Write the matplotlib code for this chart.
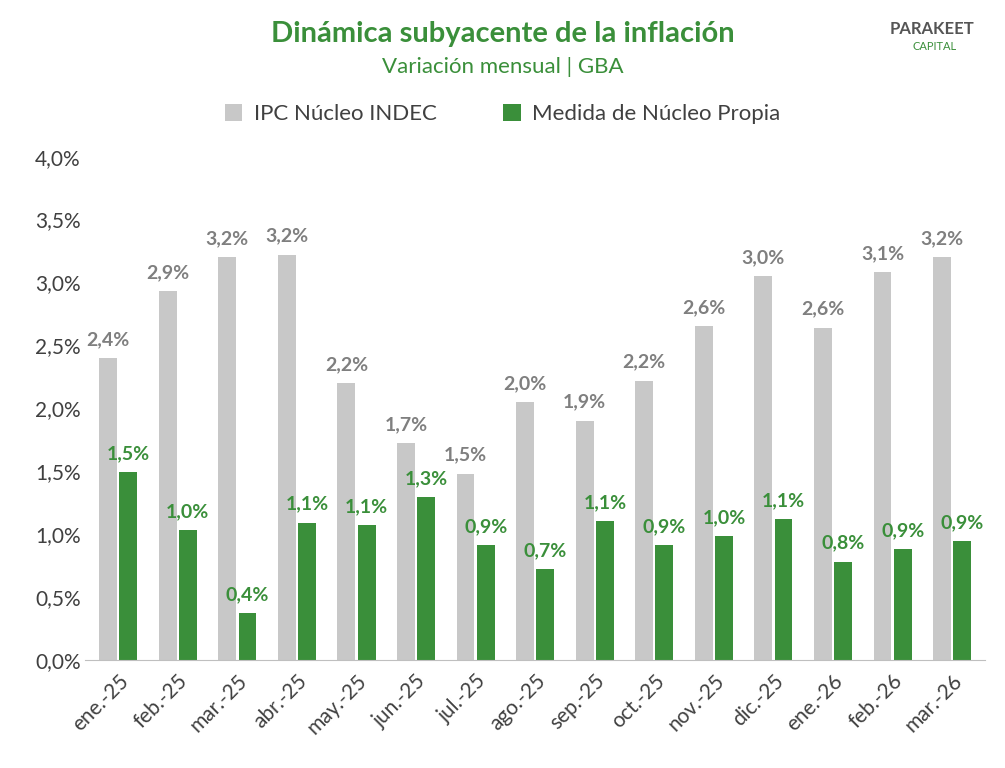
import matplotlib.pyplot as plt
import numpy as np

plt.rcParams['font.family'] = ['Lato', 'DejaVu Sans']

months = ['ene.-25', 'feb.-25', 'mar.-25', 'abr.-25', 'may.-25', 'jun.-25', 'jul.-25',
          'ago.-25', 'sep.-25', 'oct.-25', 'nov.-25', 'dic.-25', 'ene.-26', 'feb.-26', 'mar.-26']
ipc_indec = [2.40, 2.93, 3.20, 3.22, 2.20, 1.72, 1.48, 2.05, 1.90, 2.22, 2.65, 3.05, 2.64, 3.08, 3.20]
nucleo_propia = [1.49, 1.03, 0.37, 1.09, 1.07, 1.29, 0.91, 0.72, 1.10, 0.91, 0.98, 1.12, 0.78, 0.88, 0.94]

gray = '#c8c8c8'
green = '#3a8f3a'
label_gray = '#7f7f7f'

fig = plt.figure(figsize=(10.05, 7.68), dpi=100)
ax = fig.add_axes([0.085, 0.141, 0.895, 0.655])

x = np.arange(len(months))
w = 0.3
b1 = ax.bar(x - 0.17, ipc_indec, w, color=gray, label='IPC Núcleo INDEC')
b2 = ax.bar(x + 0.17, nucleo_propia, w, color=green, label='Medida de Núcleo Propia')

def fmt(v):
    return f'{v:.1f}%'.replace('.', ',')

for xi, v in zip(x, ipc_indec):
    ax.text(xi - 0.17, v + 0.08, fmt(v), ha='center', va='bottom', fontsize=14,
            fontweight='bold', color=label_gray)
for xi, v in zip(x, nucleo_propia):
    ax.text(xi + 0.17, v + 0.08, fmt(v), ha='center', va='bottom', fontsize=14,
            fontweight='bold', color=green)

ax.set_ylim(0, 4.0)
ax.set_xlim(-0.55, len(months) - 0.45)
ax.set_yticks(np.arange(0, 4.01, 0.5))
ax.set_yticklabels([fmt(v) for v in np.arange(0, 4.01, 0.5)], fontsize=15, color='#404040')
ax.set_xticks(x)
ax.set_xticklabels(months, rotation=45, ha='right', rotation_mode='anchor', fontsize=15, color='#404040')
for s in ['top', 'right', 'left']:
    ax.spines[s].set_visible(False)
ax.spines['bottom'].set_color('#bfbfbf')
ax.tick_params(axis='y', length=0)
ax.tick_params(axis='x', length=0, pad=8)

fig.text(0.5, 0.956, 'Dinámica subyacente de la inflación', ha='center', va='center',
         fontsize=21, fontweight='bold', color=green)
fig.text(0.5, 0.913, 'Variación mensual | GBA', ha='center', va='center', fontsize=16, color=green)
fig.legend(handles=[b1, b2], loc='center', bbox_to_anchor=(0.5, 0.852), ncol=2, frameon=False,
           fontsize=16, handlelength=0.8, handleheight=0.8, handletextpad=0.5,
           columnspacing=3.0, labelcolor='#404040')

fig.text(0.885, 0.962, 'PARAKEET', ha='left', va='center', fontsize=12, fontweight='bold', color='#555555')
fig.text(0.908, 0.940, 'CAPITAL', ha='left', va='center', fontsize=8, color=green)

fig.savefig('out.png', dpi=100)
